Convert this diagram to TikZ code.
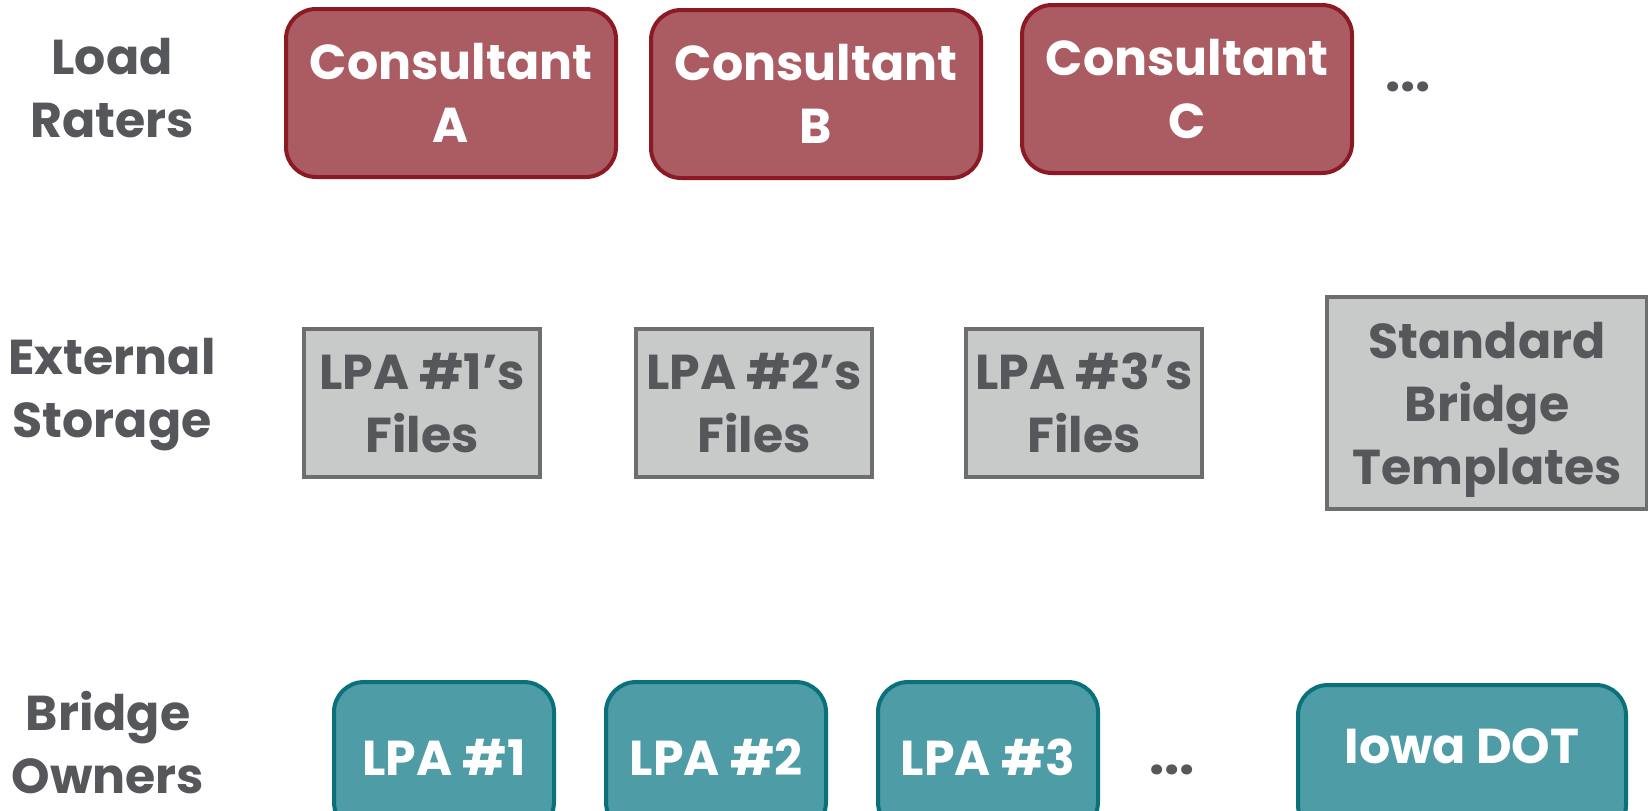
\documentclass[tikz,border=0pt]{standalone}
\usepackage{fontspec}
\setmainfont{Poppins}
\definecolor{raterfill}{HTML}{AB5C63}
\definecolor{raterline}{HTML}{8B1A24}
\definecolor{filefill}{HTML}{C8C9C9}
\definecolor{fileline}{HTML}{6D6E70}
\definecolor{ownerfill}{HTML}{4E9CA6}
\definecolor{ownerline}{HTML}{0A7079}
\definecolor{labeltext}{HTML}{55575B}

\begin{document}
\begin{tikzpicture}[x=0.5pt,y=-0.5pt,
	boxtext/.style={font=\fontsize{24.5}{31.5}\selectfont\bfseries, align=center, inner sep=0pt},
	rater/.style={boxtext, draw=raterline, fill=raterfill, text=white, line width=2pt,
		rounded corners=15pt, minimum width=165pt, minimum height=84pt},
	files/.style={boxtext, draw=fileline, fill=filefill, text=labeltext, line width=2pt,
		minimum width=118pt, minimum height=74pt},
	owner/.style={boxtext, draw=ownerline, fill=ownerfill, text=white, line width=2pt,
		rounded corners=15pt, minimum width=110pt, minimum height=75pt},
	rowlabel/.style={boxtext, text=labeltext},
	more/.style={font=\fontsize{27}{27}\selectfont\bfseries, text=labeltext, inner sep=0pt}
	]
	\useasboundingbox (0,0) rectangle (1648,810);
	\clip (0,0) rectangle (1648,810);

	\node[rowlabel] (raters) at (112,88) {Load\\Raters};
	\node[rowlabel] (storage) at (112,395) {External\\Storage};
	\node[rowlabel] (owners) at (108,743) {Bridge\\Owners};

	\node[rater] (consA) at (451,93) {Consultant\\A};
	\node[rater] (consB) at (816,94) {Consultant\\B};
	\node[rater] (consC) at (1187,89) {Consultant\\C};
	\node[more] (moreC) at (1408,87) {...};

	\node[files] (files1) at (422,403) {LPA \#1’s\\Files};
	\node[files] (files2) at (754,403) {LPA \#2’s\\Files};
	\node[files] (files3) at (1084,403) {LPA \#3’s\\Files};
	\node[files, minimum width=160pt, minimum height=106pt, text depth=-4pt] (templ) at (1487,403) {Standard\\Bridge\\Templates};

	\node[owner] (lpa1) at (444,757) {LPA \#1};
	\node[owner] (lpa2) at (716,757) {LPA \#2};
	\node[owner] (lpa3) at (988,757) {LPA \#3};
	\node[more] (moreO) at (1172,770) {...};
	\node[owner, minimum width=164pt, text depth=14pt] (iowa) at (1462,760) {Iowa DOT};
\end{tikzpicture}
\end{document}
